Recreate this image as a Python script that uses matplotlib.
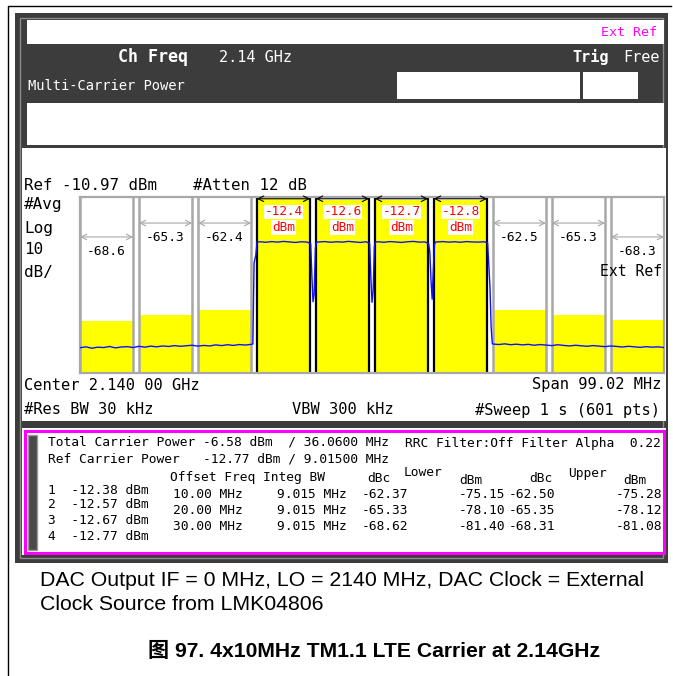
import matplotlib
matplotlib.use("Agg")
import matplotlib.pyplot as plt
from matplotlib.patches import Rectangle
from matplotlib.transforms import blended_transform_factory

# analyzer settings
ref_level = -10.97
db_per_div = 10
span_mhz = 99.02
integ_bw = 9.015

# four LTE carriers, offsets from 2.14 GHz
carrier_offsets = [-15.0, -5.0, 5.0, 15.0]
carrier_dbm = [-12.38, -12.57, -12.67, -12.77]

# adjacent channel results
adj_offsets = [10.0, 20.0, 30.0]
lower_dbc = [-62.37, -65.33, -68.62]
lower_dbm = [-75.15, -78.10, -81.40]
upper_dbc = [-62.50, -65.35, -68.31]
upper_dbm = [-75.28, -78.12, -81.08]

# averaged trace (MHz, dBm)
trace_mhz = [-49.5, -48.5, -47.5, -46.5, -45.5, -44.5, -43.5, -42.5, -41.5, -40.5,
             -39.5, -38.5, -37.5, -36.5, -35.5, -34.5, -33.5, -32.5, -31.5, -30.5,
             -29.5, -28.5, -27.5, -26.5, -25.5, -24.5, -23.5, -22.5, -21.5, -20.5,
             -20.2, -20.0, -19.7, -19.5,
             -19.0, -18.0, -17.0, -16.0, -15.0, -14.0, -13.0, -12.0, -11.0,
             -10.4, -10.2, -10.0, -9.8, -9.6, -9.4,
             -9.0, -8.0, -7.0, -6.0, -5.0, -4.0, -3.0, -2.0, -1.0,
             -0.4, -0.2, 0.0, 0.2, 0.4, 0.6,
             1.0, 2.0, 3.0, 4.0, 5.0, 6.0, 7.0, 8.0, 9.0,
             9.6, 9.8, 10.0, 10.2, 10.4, 10.6, 10.8,
             11.0, 12.0, 13.0, 14.0, 15.0, 16.0, 17.0, 18.0, 19.0,
             19.6, 19.8, 20.0, 20.2, 20.4,
             20.5, 21.5, 22.5, 23.5, 24.5, 25.5, 26.5, 27.5, 28.5, 29.5,
             30.5, 31.5, 32.5, 33.5, 34.5, 35.5, 36.5, 37.5, 38.5, 39.5,
             40.5, 41.5, 42.5, 43.5, 44.5, 45.5, 46.5, 47.5, 48.5, 49.5]
trace_dbm = [-96.6, -96.1, -96.9, -96.3, -96.5, -95.9, -96.7, -96.2, -96.0, -96.5,
             -95.8, -96.3, -95.7, -96.1, -95.6, -95.9, -95.4, -95.8, -95.5, -95.2,
             -95.7, -95.3, -95.6, -95.0, -95.4, -94.9, -95.3, -94.8, -95.1, -94.7,
             -94.5, -48.5, -44.0, -36.6,
             -36.4, -36.7, -36.3, -36.6, -36.2, -36.5, -36.8, -36.4, -36.6,
             -37.5, -55.0, -70.5, -66.0, -40.0, -36.7,
             -36.5, -36.3, -36.7, -36.4, -36.6, -36.2, -36.5, -36.8, -36.4,
             -37.4, -56.0, -70.8, -64.0, -39.0, -36.6,
             -36.4, -36.7, -36.3, -36.5, -36.8, -36.4, -36.2, -36.6, -36.5,
             -37.5, -42.0, -58.0, -69.0, -52.0, -37.8, -36.5,
             -36.5, -36.3, -36.6, -36.4, -36.7, -36.3, -36.5, -36.6, -36.4,
             -37.0, -49.5, -62.0, -84.8, -94.3,
             -94.5, -94.8, -94.4, -94.9, -94.6, -95.0, -94.7, -95.2, -94.8, -95.1,
             -95.4, -94.9, -95.3, -95.6, -95.2, -95.5, -95.8, -95.4, -95.7, -96.0,
             -95.6, -95.9, -96.2, -95.8, -96.1, -96.4, -96.0, -96.3, -96.1, -96.5]

W, H = 673, 676
MONO = "DejaVu Sans Mono"
DARK = "#3c3c3c"
GRID = "#a8a8a8"

fig = plt.figure(figsize=(W / 100, H / 100), dpi=100)
bg = fig.add_axes([0, 0, 1, 1])
bg.set_xlim(0, W)
bg.set_ylim(H, 0)
bg.axis("off")


def box(x0, y0, x1, y1, fc, ec="none", lw=0, z=1):
    bg.add_patch(Rectangle((x0, y0), x1 - x0, y1 - y0, facecolor=fc,
                           edgecolor=ec, linewidth=lw, zorder=z))


def txt(x, y, s, size, ha="left", color="black", weight="normal", family=MONO):
    bg.text(x, y, s, fontsize=size, ha=ha, va="center", color=color,
            fontweight=weight, family=family, zorder=10)


# page frame
bg.plot([8, 8, 671], [H, 6, 6], color="black", lw=1.0, zorder=2)

# instrument bezel
box(15, 13, 668, 563, DARK, z=2)
box(20, 18, 663, 558, "none", ec="#8a8a8a", lw=1.0, z=3)
box(27, 20, 664, 44, "white", z=4)
box(397, 72, 580, 99, "white", z=4)
box(583, 72, 638, 99, "white", z=4)
box(27, 103, 664, 145, "white", z=4)
box(22, 148, 666, 421, "white", z=4)
box(22, 428, 666, 555, "white", z=4)
box(25, 431, 664, 553, "none", ec="#ff00ff", lw=2.2, z=5)
box(28, 435, 37, 550, "#4a4a4a", ec="#9a9a9a", lw=1.0, z=5)

# header
txt(657, 32, "Ext Ref", 9.6, ha="right", color="#ff00ff")
txt(118, 57, "Ch Freq", 12, color="white", weight="bold")
txt(219, 57, "2.14 GHz", 11, color="white")
txt(609, 57, "Trig", 11, ha="right", color="white", weight="bold")
txt(660, 57, "Free", 11, ha="right", color="white")
txt(28, 86, "Multi-Carrier Power", 9.9, color="white")

# annotations around the graticule
txt(24, 185, "Ref -10.97 dBm", 11.3)
txt(193, 185, "#Atten 12 dB", 11.3)
for yy, s in zip([205, 228, 250, 272], ["#Avg", "Log", "10", "dB/"]):
    txt(24, yy, s, 11.5)
txt(24, 385, "Center 2.140 00 GHz", 11.1)
txt(662, 385, "Span 99.02 MHz", 11.1, ha="right")
txt(24, 410, "#Res BW 30 kHz", 11.1)
txt(292, 410, "VBW 300 kHz", 11.1)
txt(660, 410, "#Sweep 1 s (601 pts)", 11.1, ha="right")

# results table
tsz = 9.3
txt(48, 442, "Total Carrier Power -6.58 dBm  / 36.0600 MHz", tsz)
txt(48, 459, "Ref Carrier Power   -12.77 dBm / 9.01500 MHz", tsz)
txt(405, 444, "RRC Filter:Off Filter Alpha  0.22", tsz)
txt(170, 478, "Offset Freq Integ BW", tsz)
txt(367, 479, "dBc", tsz)
txt(404, 473, "Lower", tsz)
txt(459, 481, "dBm", tsz)
txt(529, 479, "dBc", tsz)
txt(568, 473, "Upper", tsz)
txt(623, 481, "dBm", tsz)
for i, (p, yy) in enumerate(zip(carrier_dbm, [490, 505, 521, 537])):
    txt(48, yy, f"{i + 1}  {p:.2f} dBm", tsz)
for k, yy in enumerate([495, 511, 527]):
    txt(173, yy, f"{adj_offsets[k]:.2f} MHz", tsz)
    txt(277, yy, f"{integ_bw:.3f} MHz", tsz)
    txt(362, yy, f"{lower_dbc[k]:.2f}", tsz)
    txt(505, yy, f"{lower_dbm[k]:.2f}", tsz, ha="right")
    txt(509, yy, f"{upper_dbc[k]:.2f}", tsz)
    txt(662, yy, f"{upper_dbm[k]:.2f}", tsz, ha="right")

# caption
cap = ["Liberation Sans", "Noto Sans CJK SC"]
txt(40, 580, "DAC Output IF = 0 MHz, LO = 2140 MHz, DAC Clock = External", 15.3, family=cap)
txt(40, 604, "Clock Source from LMK04806", 15.3, family=cap)
txt(374, 651, "图 97. 4x10MHz TM1.1 LTE Carrier at 2.14GHz", 15.2, ha="center",
    weight="bold", family=cap)

# spectrum graticule
px0, px1, py0, py1 = 80, 664, 197, 373
ax = fig.add_axes([px0 / W, 1 - py1 / H, (px1 - px0) / W, (py1 - py0) / H])
bottom = ref_level - 10 * db_per_div
ax.set_xlim(-span_mhz / 2, span_mhz / 2)
ax.set_ylim(bottom, ref_level)
ax.set_xticks([])
ax.set_yticks([])
for sp in ax.spines.values():
    sp.set_color(GRID)
    sp.set_linewidth(1.6)

lower_centers = [carrier_offsets[0] - o for o in adj_offsets]
upper_centers = [carrier_offsets[-1] + o for o in adj_offsets]
adj_centers = lower_centers + upper_centers
adj_levels = lower_dbm + upper_dbm
adj_dbc = lower_dbc + upper_dbc

ax.bar(carrier_offsets, [v - bottom for v in carrier_dbm], width=integ_bw,
       bottom=bottom, color="#ffff00", zorder=1)
ax.bar(adj_centers, [v - bottom for v in adj_levels], width=integ_bw,
       bottom=bottom, color="#ffff00", zorder=1)

for c in adj_centers:
    for e in (c - integ_bw / 2, c + integ_bw / 2):
        ax.axvline(e, color=GRID, lw=1.8, zorder=2)
for c in carrier_offsets:
    for e in (c - integ_bw / 2, c + integ_bw / 2):
        ax.axvline(e, color="black", lw=1.6, zorder=2)

ax.plot(trace_mhz, trace_dbm, color="#1010ff", lw=1.0, zorder=3)

tr = blended_transform_factory(ax.transData, ax.transAxes)
for c, p in zip(carrier_offsets, carrier_dbm):
    ax.annotate("", xy=(c - integ_bw / 2, 0.99), xytext=(c + integ_bw / 2, 0.99),
                xycoords=tr, textcoords=tr,
                arrowprops=dict(arrowstyle="<->", color="black", lw=0.8,
                                shrinkA=0, shrinkB=0), zorder=4)
    ax.text(c, 0.915, f"{p:.1f}", transform=tr, ha="center", va="center",
            fontsize=9.2, family=MONO, color="#ff0000", zorder=5,
            bbox=dict(facecolor="white", edgecolor="none", pad=0.5))
    ax.text(c, 0.826, "dBm", transform=tr, ha="center", va="center",
            fontsize=9.2, family=MONO, color="#ff0000", zorder=5,
            bbox=dict(facecolor="white", edgecolor="none", pad=0.5))

for c, d, o in zip(adj_centers, adj_dbc, adj_offsets + adj_offsets):
    ya = 0.773 if o == adj_offsets[-1] else 0.852
    ax.annotate("", xy=(c - integ_bw / 2, ya), xytext=(c + integ_bw / 2, ya),
                xycoords=tr, textcoords=tr,
                arrowprops=dict(arrowstyle="<->", color=GRID, lw=0.8,
                                shrinkA=0, shrinkB=0), zorder=4)
    ax.text(c, ya - 0.08, f"{d:.1f}", transform=tr, ha="center", va="center",
            fontsize=9.3, family=MONO, color="black", zorder=5)

ax.text(0.997, 0.575, "Ext Ref", transform=ax.transAxes, ha="right", va="center",
        fontsize=10.6, family=MONO, zorder=5)

fig.savefig("out.png", dpi=100)
